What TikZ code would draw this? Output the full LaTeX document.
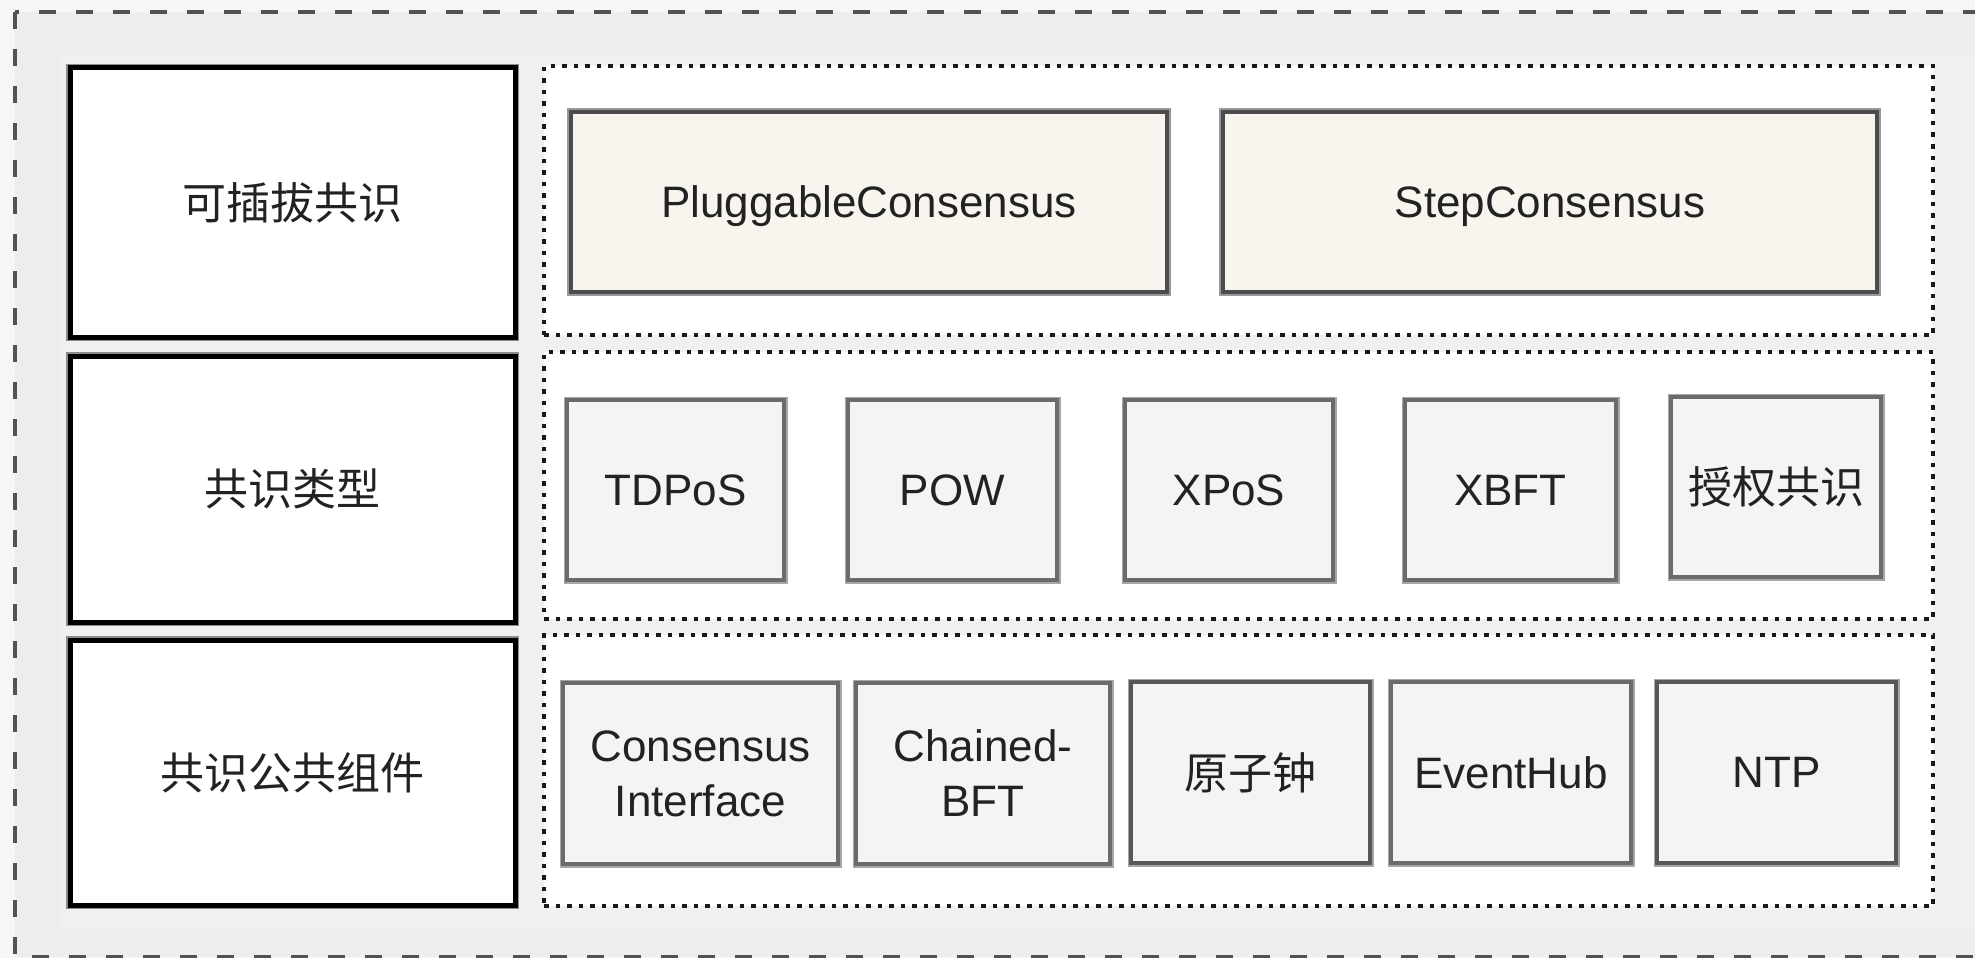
\documentclass[tikz,border=0pt]{standalone}
\usepackage{fontspec}
\setmainfont{Liberation Sans}
\newfontfamily\cjk{Noto Sans CJK SC}
\definecolor{canvasbg}{HTML}{F6F6F6}
\definecolor{outerbg}{HTML}{EDEDED}
\definecolor{innerbg}{HTML}{F0F0F0}
\definecolor{creamfill}{HTML}{F7F5EE}
\definecolor{boxfill}{HTML}{F4F4F4}
\definecolor{txt}{HTML}{222222}
\begin{document}
\begin{tikzpicture}[x=1pt,y=-1pt,
  every node/.style={inner sep=0pt, text=txt, font=\fontsize{44}{55}\selectfont, align=center},
  lat/.style={text depth=0pt},
  lbox/.style={draw=black, line width=5pt, fill=white, minimum width=445pt,
    preaction={draw=black!45, line width=8pt}},
  frame/.style={draw=black!90, line width=4.5pt, dash pattern=on 4.5pt off 7pt, fill=white,
    minimum width=1389pt},
  topbox/.style={draw=black!70, line width=4pt, fill=creamfill, minimum height=180pt,
    preaction={draw=black!40, line width=8pt}},
  gbox/.style={draw=black!58, line width=4pt, fill=boxfill,
    preaction={draw=black!35, line width=7pt}},
  dbox/.style={gbox, draw=black!66},
  outerdash/.style={draw=black!68, line width=4pt, dash pattern=on 17pt off 20pt}
]
\useasboundingbox (0,0) rectangle (1975,958);
\clip (0,0) rectangle (1975,958);
\fill[canvasbg] (0,0) rectangle (1975,958);
\fill[outerbg] (15,12) rectangle (1995,957);
\fill[innerbg] (61,55) rectangle (1995,928);
\draw[outerdash] (15,12) rectangle (1995,957);

% left labels
\node[lbox, minimum height=269pt] (l1) at (292.5,202.5) {\cjk 可插拔共识};
\node[lbox, minimum height=266pt] (l2) at (292.5,489) {\cjk 共识类型};
\node[lbox, minimum height=265pt] (l3) at (292.5,772.5) {\cjk 共识公共组件};

% dotted frames
\node[frame, minimum height=269pt] (f1) at (1238.5,200.5) {};
\node[frame, minimum height=267pt] (f2) at (1238.5,485.5) {};
\node[frame, minimum height=271pt] (f3) at (1238.5,770.5) {};

% row 1
\node[topbox, lat, minimum width=596pt] (pc) at (869,202) {PluggableConsensus};
\node[topbox, lat, minimum width=654pt] (sc) at (1550,202) {StepConsensus};

% row 2
\node[gbox, lat, minimum width=217pt, minimum height=180pt] (tdpos) at (675.5,490) {TDPoS};
\node[gbox, lat, minimum width=209pt, minimum height=180pt] (pow) at (952.5,490) {POW};
\node[gbox, lat, minimum width=208pt, minimum height=180pt] (xpos) at (1229,490) {XPoS};
\node[gbox, lat, minimum width=211pt, minimum height=180pt] (xbft) at (1510.5,490) {XBFT};
\node[gbox, minimum width=210pt, minimum height=180pt] (auth) at (1776,487) {\cjk 授权共识};

% row 3
\node[gbox, minimum width=275pt, minimum height=181pt] (ci) at (700.5,773.5) {Consensus\\Interface};
\node[gbox, minimum width=254pt, minimum height=181pt] (cbft) at (983,773.5) {Chained-\\BFT};
\node[dbox, minimum width=239pt, minimum height=181pt] (clock) at (1250.5,772.5) {\cjk 原子钟};
\node[gbox, lat, minimum width=240pt, minimum height=181pt] (hub) at (1511,772.5) {EventHub};
\node[dbox, lat, minimum width=239pt, minimum height=181pt] (ntp) at (1776.5,772.5) {NTP};
\end{tikzpicture}
\end{document}
